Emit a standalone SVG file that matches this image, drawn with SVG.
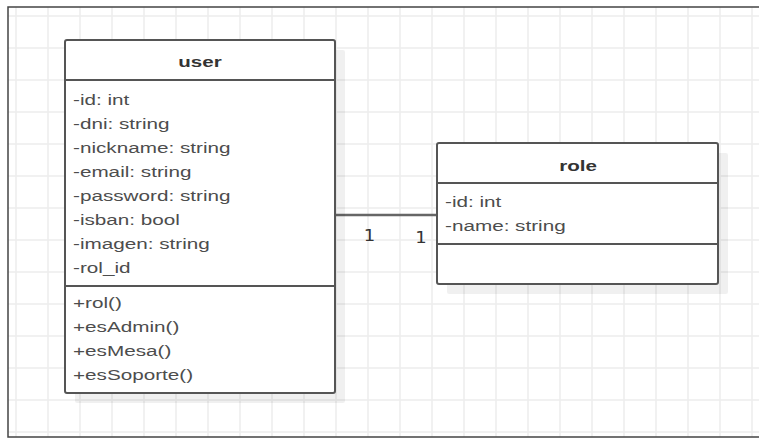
<svg xmlns="http://www.w3.org/2000/svg" width="759" height="438" viewBox="0 0 759 438">
<defs>
<pattern id="grid" x="0" y="0" width="32" height="32" patternUnits="userSpaceOnUse">
<path d="M16 0V32M0 16H32" stroke="#ededed" stroke-width="1.5" fill="none"/>
</pattern>
<style>
.box{fill:#fff;stroke:#555;stroke-width:2}
.shadow{fill:#000;fill-opacity:0.06}
.sep{stroke:#555;stroke-width:2}
.t{font-family:"Liberation Sans",Arial,sans-serif;font-size:15px;fill:#4d4d4d}
.title{font-family:"Liberation Sans",Arial,sans-serif;font-size:15px;font-weight:bold;fill:#333;text-anchor:middle}
.m{font-family:"DejaVu Sans",sans-serif;font-size:15px;fill:#333;text-anchor:middle}
.conn{stroke:#666;stroke-width:2.5;fill:none}
</style>
</defs>
<rect width="759" height="438" fill="#fff"/>
<rect x="8" y="7" width="751" height="430" fill="url(#grid)"/>
<path d="M759 7H8V437H759" fill="none" stroke="#444" stroke-width="1.5"/>

<g id="connectors">
<line class="conn" x1="335" y1="215" x2="437" y2="215"/>
<g transform="translate(369.5 241) scale(1.2 1)"><text class="m" x="0" y="0">1</text></g>
<g transform="translate(421 243) scale(1.2 1)"><text class="m" x="0" y="0">1</text></g>
</g>

<g id="user">
<rect class="shadow" x="75" y="50" width="270" height="353" rx="2"/>
<rect class="box" x="65" y="40" width="270" height="353" rx="2"/>
<line class="sep" x1="65" y1="80" x2="335" y2="80"/>
<line class="sep" x1="65" y1="286" x2="335" y2="286"/>
<g transform="translate(200 67) scale(1.37 1)"><text class="title" x="0" y="0">user</text></g>
<g transform="translate(73 0) scale(1.38 1)">
<text class="t" x="0" y="105">-id: int</text>
<text class="t" x="0" y="129">-dni: string</text>
<text class="t" x="0" y="153">-nickname: string</text>
<text class="t" x="0" y="177">-email: string</text>
<text class="t" x="0" y="201">-password: string</text>
<text class="t" x="0" y="225">-isban: bool</text>
<text class="t" x="0" y="249">-imagen: string</text>
<text class="t" x="0" y="273">-rol_id</text>
<text class="t" x="0" y="308">+rol()</text>
<text class="t" x="0" y="332">+esAdmin()</text>
<text class="t" x="0" y="356">+esMesa()</text>
<text class="t" x="0" y="380">+esSoporte()</text>
</g>
</g>

<g id="role">
<rect class="shadow" x="447" y="153" width="281" height="141" rx="2"/>
<rect class="box" x="437" y="143" width="281" height="141" rx="2"/>
<line class="sep" x1="437" y1="183" x2="718" y2="183"/>
<line class="sep" x1="437" y1="244" x2="718" y2="244"/>
<g transform="translate(578 171) scale(1.37 1)"><text class="title" x="0" y="0">role</text></g>
<g transform="translate(445 0) scale(1.38 1)">
<text class="t" x="0" y="207">-id: int</text>
<text class="t" x="0" y="231">-name: string</text>
</g>
</g>
</svg>
